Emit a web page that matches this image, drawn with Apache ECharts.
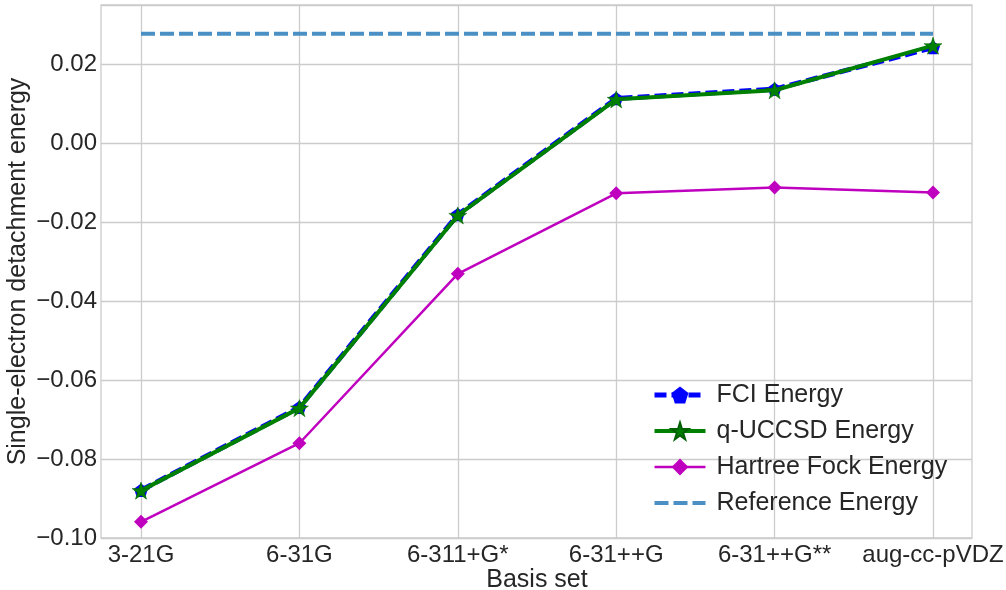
<!DOCTYPE html>
<html>
<head>
<meta charset="utf-8">
<script src="https://cdn.jsdelivr.net/npm/echarts@6/dist/echarts.min.js"></script>
<style>html,body{margin:0;padding:0;background:#fff}#c{width:1006px;height:590px}</style>
</head>
<body>
<div id="c"></div>
<script>
const categories = ['3-21G', '6-31G', '6-311+G*', '6-31++G', '6-31++G**', 'aug-cc-pVDZ'];
const fciEnergy = [-0.0879, -0.0669, -0.0181, 0.0113, 0.0137, 0.0242];
const uccsdEnergy = [-0.0880, -0.0671, -0.0183, 0.0111, 0.0134, 0.0247];
const hfEnergy = [-0.0959, -0.0760, -0.0331, -0.0127, -0.0112, -0.0125];
const referenceEnergy = [0.0277, 0.0277, 0.0277, 0.0277, 0.0277, 0.0277];
const yTicks = { min: -0.10, max: 0.035, interval: 0.02 };

const FONT = 'Liberation Sans';
const TXT = '#262626';
const GRIDC = '#cccccc';
const PENTAGON = 'path://M0,-1 L0.951,-0.309 L0.588,0.809 L-0.588,0.809 L-0.951,-0.309 Z';
const STAR = 'path://M0,-1 L0.2245,-0.309 L0.951,-0.309 L0.3633,0.118 L0.588,0.809 L0,0.382 L-0.588,0.809 L-0.3633,0.118 L-0.951,-0.309 L-0.2245,-0.309 Z';

const fmt = v => {
  if (Math.abs(v) < 1e-9) v = 0;
  const s = v.toFixed(2);
  return s.replace('-', '\u2212');
};

const chart = echarts.init(document.getElementById('c'), null, { renderer: 'canvas' });
chart.setOption({
  backgroundColor: '#ffffff',
  animation: false,
  textStyle: { fontFamily: FONT, color: TXT },
  grid: [
    { left: 101, right: 34, top: 5, bottom: 52, show: true, borderColor: GRIDC, borderWidth: 1.3, backgroundColor: 'transparent', containLabel: false, outerBoundsMode: 'none' },
    { left: 141, right: 73, top: 5, bottom: 52, containLabel: false, outerBoundsMode: 'none' }
  ],
  xAxis: [
    { gridIndex: 0, type: 'value', min: 0, max: 1, show: false },
    {
      gridIndex: 1, type: 'category', data: categories, boundaryGap: false,
      axisLine: { show: false }, axisTick: { show: false },
      axisLabel: { fontSize: 24, color: TXT, fontFamily: FONT, margin: 5, interval: 0 },
      splitLine: { show: true, lineStyle: { color: GRIDC, width: 1.3 } },
      name: 'Basis set', nameLocation: 'middle', nameGap: 30, nameMoveOverlap: false,
      nameTextStyle: { fontSize: 25, color: TXT, fontFamily: FONT }
    }
  ],
  yAxis: [
    {
      gridIndex: 0, type: 'value', min: yTicks.min, max: yTicks.max, interval: yTicks.interval,
      axisLine: { show: false }, axisTick: { show: false },
      axisLabel: { fontSize: 24, color: TXT, fontFamily: FONT, margin: 4, formatter: fmt, showMaxLabel: false },
      splitLine: { show: true, lineStyle: { color: GRIDC, width: 1.3 } },
      name: 'Single-electron detachment energy', nameLocation: 'middle', nameGap: 70, nameRotate: 90, nameMoveOverlap: false,
      nameTextStyle: { fontSize: 25, color: TXT, fontFamily: FONT }
    },
    { gridIndex: 1, type: 'value', min: yTicks.min, max: yTicks.max, show: false }
  ],
  legend: {
    orient: 'vertical', left: 647, top: 377,
    itemWidth: 51, itemHeight: 21, itemGap: 10,
    textStyle: { fontSize: 25, color: TXT, fontFamily: FONT, lineHeight: 26, padding: [0, 0, 0, 6] },
    data: [
      { name: 'FCI Energy', lineStyle: { width: 5 } },
      { name: 'q-UCCSD Energy', lineStyle: { width: 4 } },
      { name: 'Hartree Fock Energy', lineStyle: { width: 2.5 } },
      { name: 'Reference Energy', lineStyle: { width: 4 }, itemStyle: { opacity: 0 } }
    ]
  },
  series: [
    {
      name: 'FCI Energy', type: 'line', xAxisIndex: 1, yAxisIndex: 1, data: fciEnergy,
      color: '#0000ff', lineStyle: { color: '#0000ff', width: 5, type: [12, 5] },
      symbol: PENTAGON, symbolKeepAspect: true, symbolSize: 14,
      itemStyle: { color: '#0000ff' }, z: 2
    },
    {
      name: 'q-UCCSD Energy', type: 'line', xAxisIndex: 1, yAxisIndex: 1, data: uccsdEnergy,
      color: '#008000', lineStyle: { color: '#008000', width: 4 },
      symbol: STAR, symbolKeepAspect: true, symbolSize: 18,
      itemStyle: { color: '#008000', borderColor: '#006000', borderWidth: 0.5 }, z: 3
    },
    {
      name: 'Hartree Fock Energy', type: 'line', xAxisIndex: 1, yAxisIndex: 1, data: hfEnergy,
      color: '#bf00bf', lineStyle: { color: '#bf00bf', width: 2.5 },
      symbol: 'diamond', symbolSize: 14,
      itemStyle: { color: '#bf00bf' }, z: 4
    },
    {
      name: 'Reference Energy', type: 'line', xAxisIndex: 1, yAxisIndex: 1, data: referenceEnergy,
      color: '#4a90c4', lineStyle: { color: '#4a90c4', width: 4, type: [14, 5] },
      symbol: 'none', showSymbol: false, z: 5
    }
  ]
});
</script>
</body>
</html>
